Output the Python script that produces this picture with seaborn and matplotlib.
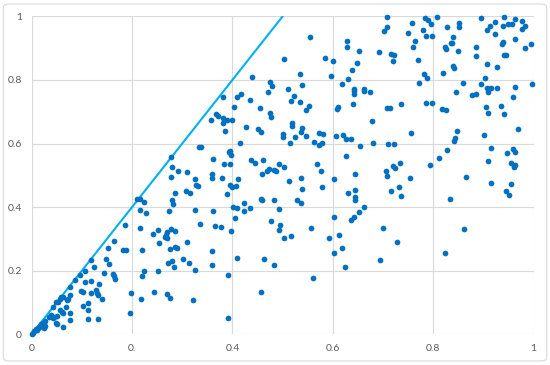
import matplotlib
matplotlib.use('Agg')
import matplotlib.pyplot as plt
import seaborn as sns
from matplotlib.patches import FancyBboxPatch

# Valores (x, y)
x_vals = [
    0.210, 0.216, 0.224, 0.215, 0.228, 0.186, 0.216, 0.251, 0.241, 0.253,
    0.164, 0.153, 0.183, 0.187, 0.219, 0.118, 0.149, 0.155, 0.124, 0.106,
    0.144, 0.163, 0.165, 0.167, 0.224, 0.220, 0.251, 0.097, 0.086, 0.106,
    0.119, 0.134, 0.077, 0.099, 0.102, 0.118, 0.128, 0.131, 0.133, 0.140,
    0.198, 0.244, 0.217, 0.077, 0.073, 0.058, 0.062, 0.056, 0.070, 0.049,
    0.053, 0.102, 0.112, 0.112, 0.042, 0.056, 0.069, 0.077, 0.060, 0.062,
    0.038, 0.045, 0.043, 0.051, 0.034, 0.077, 0.112, 0.132, 0.195,
    0.048, 0.051, 0.063,
    0.026, 0.023, 0.019, 0.021, 0.016, 0.027, 0.025, 0.012, 0.009, 0.005,
    0.002, 0.000, 0.011, 0.014,
    # bloque 0.35 - 0.5 arriba
    0.438, 0.475, 0.479, 0.471, 0.382, 0.409, 0.418, 0.434, 0.403, 0.454,
    0.475, 0.477, 0.367, 0.371, 0.358, 0.381, 0.389, 0.399,
    # bloque 0.25 - 0.5 medio
    0.382, 0.386, 0.427, 0.450, 0.456, 0.416, 0.333, 0.337, 0.393, 0.396,
    0.397, 0.277, 0.362, 0.436, 0.444, 0.461, 0.384, 0.395, 0.279, 0.291,
    0.310, 0.277, 0.360, 0.360, 0.379, 0.326, 0.327, 0.331, 0.411, 0.396,
    0.400, 0.408, 0.458, 0.469, 0.473, 0.483, 0.486, 0.493, 0.308, 0.315,
    0.285, 0.390, 0.279, 0.281, 0.457, 0.458, 0.483, 0.424, 0.401, 0.409,
    0.434, 0.424, 0.492, 0.274, 0.326, 0.362, 0.406, 0.336, 0.365, 0.378,
    0.477, 0.494,
    # bloque 0.25 - 0.5 abajo
    0.397, 0.277, 0.285, 0.269, 0.268, 0.266, 0.269, 0.310, 0.276, 0.286,
    0.289, 0.359, 0.493, 0.409, 0.462, 0.482, 0.301, 0.272, 0.279, 0.314,
    0.283, 0.359, 0.325, 0.392, 0.269, 0.275, 0.322, 0.457, 0.392,
    # bloque 0.5 - 0.75 arriba
    0.708, 0.707, 0.701, 0.554, 0.629, 0.629, 0.653, 0.691, 0.715, 0.721,
    0.719, 0.503, 0.585, 0.601, 0.649, 0.638, 0.535, 0.597, 0.630, 0.619,
    0.539, 0.511, 0.642, 0.642, 0.642, 0.662, 0.662, 0.674, 0.523, 0.516,
    0.534, 0.553, 0.547, 0.611, 0.608, 0.641, 0.707, 0.714, 0.735, 0.677,
    # bloque 0.5 - 0.75 medio
    0.518, 0.518, 0.500, 0.500, 0.538, 0.536, 0.525, 0.546, 0.515, 0.572,
    0.580, 0.562, 0.578, 0.572, 0.606, 0.621, 0.627, 0.637, 0.655, 0.680,
    0.709, 0.721, 0.626, 0.502, 0.568, 0.576, 0.644, 0.705, 0.708, 0.719,
    0.724, 0.733, 0.512, 0.537, 0.602, 0.538, 0.579, 0.630, 0.645, 0.645,
    0.645, 0.716, 0.731, 0.735, 0.528, 0.536, 0.662, 0.652, 0.602, 0.643,
    0.636,
    # bloque 0.5 - 0.75 abajo
    0.503, 0.516, 0.556, 0.699, 0.593, 0.613, 0.727, 0.618, 0.603, 0.693,
    0.624, 0.560,
    # bloque 0.75 - 1 arriba
    0.750, 0.758, 0.779, 0.783, 0.789, 0.795, 0.808, 0.764, 0.786, 0.798,
    0.759, 0.828, 0.852, 0.852, 0.840, 0.836, 0.837, 0.823, 0.825, 0.849,
    0.769, 0.885, 0.885, 0.896, 0.908, 0.913, 0.922, 0.940, 0.923, 0.939,
    0.949, 0.957, 0.962, 0.977, 0.983, 0.976, 0.962, 0.939, 0.937, 0.994,
    0.983, 0.941, 0.945, 0.839, 0.841, 0.907, 0.927, 0.820, 0.781, 0.787,
    0.904, 0.771, 0.859, 0.895, 0.845, 0.907, 0.909, 0.916, 0.927, 0.877,
    0.886, 0.962, 0.997, 0.958, 0.786, 0.797, 0.817, 0.825, 0.906, 0.934,
    0.909, 0.941,
    # bloque 0.75 - 1 medio y abajo
    0.755, 0.848, 0.843, 0.842, 0.902, 0.969, 0.827, 0.915, 0.959, 0.962,
    0.947, 0.812, 0.909, 0.794, 0.955, 0.962, 0.960, 0.754, 0.865, 0.916,
    0.955, 0.944, 0.951, 0.834, 0.861, 0.824,
]
y_vals = [
    0.424, 0.424, 0.417, 0.391, 0.382, 0.343, 0.334, 0.329, 0.317, 0.287,
    0.294, 0.272, 0.266, 0.265, 0.266, 0.234, 0.236, 0.222, 0.212, 0.199,
    0.192, 0.191, 0.183, 0.175, 0.199, 0.184, 0.199, 0.187, 0.170, 0.164,
    0.168, 0.157, 0.149, 0.136, 0.132, 0.129, 0.138, 0.131, 0.125, 0.111,
    0.131, 0.134, 0.111, 0.125, 0.111, 0.118, 0.118, 0.110, 0.108, 0.101,
    0.101, 0.090, 0.097, 0.076, 0.086, 0.075, 0.087, 0.066, 0.071, 0.066,
    0.061, 0.054, 0.050, 0.057, 0.054, 0.045, 0.047, 0.047, 0.066,
    0.037, 0.031, 0.022,
    0.042, 0.037, 0.033, 0.027, 0.026, 0.025, 0.021, 0.021, 0.016, 0.010,
    0.005, 0.002, 0.013, 0.023,
    # bloque 0.35 - 0.5 arriba
    0.810, 0.794, 0.780, 0.762, 0.745, 0.746, 0.755, 0.736, 0.714, 0.711,
    0.696, 0.683, 0.692, 0.687, 0.675, 0.681, 0.674, 0.675,
    # bloque 0.25 - 0.5 medio
    0.664, 0.640, 0.651, 0.646, 0.637, 0.601, 0.588, 0.590, 0.572, 0.577,
    0.563, 0.559, 0.550, 0.549, 0.538, 0.549, 0.536, 0.536, 0.526, 0.515,
    0.509, 0.496, 0.503, 0.491, 0.491, 0.489, 0.470, 0.466, 0.487, 0.470,
    0.462, 0.466, 0.504, 0.512, 0.520, 0.517, 0.512, 0.535, 0.450, 0.445,
    0.444, 0.441, 0.421, 0.411, 0.427, 0.421, 0.423, 0.413, 0.400, 0.396,
    0.398, 0.387, 0.394, 0.387, 0.392, 0.387, 0.365, 0.346, 0.341, 0.336,
    0.355, 0.344,
    # bloque 0.25 - 0.5 abajo
    0.326, 0.332, 0.326, 0.322, 0.313, 0.307, 0.303, 0.290, 0.268, 0.275,
    0.271, 0.263, 0.327, 0.239, 0.238, 0.217, 0.237, 0.225, 0.230, 0.225,
    0.212, 0.217, 0.202, 0.185, 0.126, 0.113, 0.109, 0.133, 0.052,
    # bloque 0.5 - 0.75 arriba
    0.999, 0.966, 0.953, 0.935, 0.923, 0.902, 0.891, 0.889, 0.883, 0.879,
    0.861, 0.866, 0.868, 0.858, 0.854, 0.832, 0.819, 0.811, 0.804, 0.788,
    0.783, 0.771, 0.771, 0.764, 0.757, 0.771, 0.764, 0.762, 0.748, 0.735,
    0.732, 0.718, 0.705, 0.714, 0.709, 0.725, 0.711, 0.711, 0.725, 0.671,
    # bloque 0.5 - 0.75 medio
    0.664, 0.655, 0.630, 0.620, 0.650, 0.637, 0.621, 0.625, 0.603, 0.632,
    0.629, 0.604, 0.603, 0.596, 0.625, 0.627, 0.614, 0.615, 0.592, 0.603,
    0.598, 0.599, 0.561, 0.527, 0.534, 0.512, 0.505, 0.514, 0.498, 0.528,
    0.523, 0.540, 0.482, 0.493, 0.487, 0.456, 0.463, 0.445, 0.454, 0.432,
    0.423, 0.452, 0.464, 0.436, 0.423, 0.413, 0.400, 0.386, 0.370, 0.368,
    0.359,
    # bloque 0.5 - 0.75 abajo
    0.302, 0.308, 0.335, 0.333, 0.303, 0.313, 0.290, 0.270, 0.255, 0.234,
    0.211, 0.177,
    # bloque 0.75 - 1 arriba
    0.948, 0.980, 0.958, 0.996, 0.988, 0.975, 0.999, 0.923, 0.937, 0.938,
    0.902, 0.966, 0.980, 0.966, 0.934, 0.917, 0.917, 0.903, 0.897, 0.890,
    0.862, 0.903, 0.876, 0.994, 0.958, 0.969, 0.981, 0.998, 0.944, 0.970,
    0.975, 0.976, 0.992, 0.985, 0.970, 0.960, 0.930, 0.919, 0.912, 0.912,
    0.901, 0.878, 0.879, 0.845, 0.836, 0.849, 0.840, 0.821, 0.820, 0.805,
    0.807, 0.790, 0.790, 0.787, 0.761, 0.773, 0.763, 0.775, 0.776, 0.753,
    0.757, 0.777, 0.788, 0.746, 0.726, 0.726, 0.710, 0.705, 0.714, 0.719,
    0.695, 0.693,
    # bloque 0.75 - 1 medio y abajo
    0.632, 0.640, 0.618, 0.607, 0.627, 0.645, 0.580, 0.585, 0.582, 0.573,
    0.569, 0.554, 0.545, 0.533, 0.538, 0.531, 0.526, 0.490, 0.494, 0.476,
    0.472, 0.451, 0.437, 0.427, 0.332, 0.255,
]

# Recta y = 2x
linea_x = [0, 0.5]
linea_y = [0, 1]

tick_vals = [0, 0.2, 0.4, 0.6, 0.8, 1]
x_tick_labels = ['0', '0.', '0.4', '0.6', '0.8', '1']
y_tick_labels = ['0', '0.2', '0.4', '0.6', '0.8', '1']

sns.set_theme(style="white")
plt.rcParams['font.family'] = ['Lato', 'DejaVu Sans']

fig = plt.figure(figsize=(5.5, 3.65), dpi=100)
ax = fig.add_axes([0.0575, 0.0841, 0.9128, 0.8712])

# Puntos
sns.scatterplot(x=x_vals, y=y_vals, ax=ax, color='#0070C0', s=17,
                linewidth=0, clip_on=False, zorder=3)

# Recta
sns.lineplot(x=linea_x, y=linea_y, ax=ax, color='#00B0F0', linewidth=1.5,
             zorder=2)

ax.set_xlim(0, 1)
ax.set_ylim(0, 1)
ax.set_xticks(tick_vals)
ax.set_xticklabels(x_tick_labels)
ax.set_yticks(tick_vals)
ax.set_yticklabels(y_tick_labels)
ax.tick_params(length=0, labelsize=7.5, labelcolor='#595959')
ax.tick_params(axis='x', pad=7)
ax.tick_params(axis='y', pad=7)

# Rejilla suave
ax.grid(True, color='#D9D9D9', linewidth=0.8)
ax.set_axisbelow(True)
for s in ax.spines.values():
    s.set_visible(False)

# Borde del gráfico
borde = FancyBboxPatch((0.006, 0.011), 0.988, 0.978,
                       boxstyle='round,pad=0,rounding_size=0.01',
                       transform=fig.transFigure, facecolor='none',
                       edgecolor='#D9D9D9', linewidth=0.8)
fig.patches.append(borde)

fig.savefig('out.png', dpi=100)
